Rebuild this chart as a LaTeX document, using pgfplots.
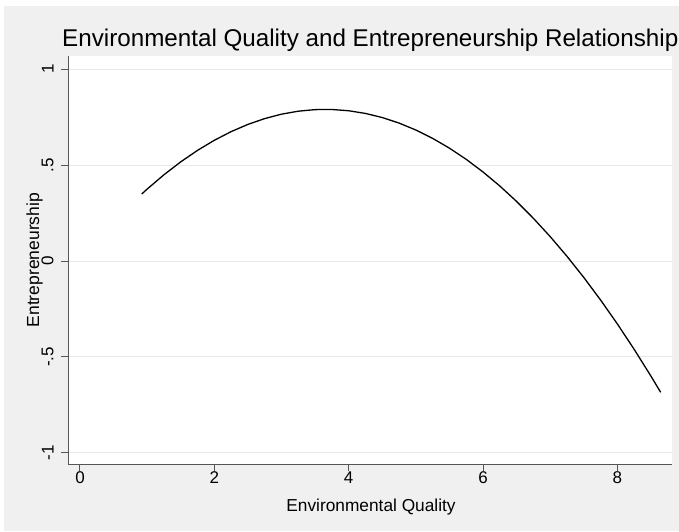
\documentclass[border=0pt]{standalone}
\usepackage{pgfplots}
\pgfplotsset{compat=1.18}
\usepackage{fontspec}
\setmainfont{Liberation Sans}
\definecolor{bggray}{RGB}{240,240,240}
\definecolor{gridgray}{RGB}{232,232,232}
\definecolor{axgray}{RGB}{85,85,85}
\begin{document}
\begin{tikzpicture}[x=1pt,y=1pt]
\useasboundingbox (0,0) rectangle (679,531);
\fill[white] (0,0) rectangle (679,531);
\fill[bggray] (4,0) rectangle (679,525);
\begin{axis}[
  at={(68.3pt,66.7pt)}, anchor=south west,
  scale only axis, width=603.4pt, height=408.3pt,
  xmin=-0.174, xmax=8.809, ymin=-1.059, ymax=1.068,
  axis background/.style={fill=white},
  axis x line*=bottom, axis y line*=left,
  axis line style={axgray, line width=1.2pt},
  tick style={axgray, line width=1pt},
  major tick length=7pt, tick align=outside,
  xtick={0,2,4,6,8}, xticklabels={0,2,4,6,8},
  ytick={-1,-0.5,0,0.5,1}, yticklabels={-1,-.5,0,.5,1},
  minor tick num=0,
  ymajorgrids, grid style={gridgray, line width=1pt},
  xticklabel style={font=\fontsize{17}{17}\selectfont, inner sep=0pt, anchor=north},
  yticklabel style={font=\fontsize{17}{17}\selectfont, inner sep=0pt, rotate=90, anchor=south, yshift=7.5pt},
  title={Environmental Quality and Entrepreneurship Relationship},
  title style={at={(-0.0104,1.0091)}, anchor=base west, inner sep=0pt, font=\fontsize{24.2}{24.2}\selectfont},
  xlabel={Environmental Quality},
  xlabel style={at={(0.5017,-0.1168)}, anchor=base, inner sep=0pt, font=\fontsize{17.3}{17.3}\selectfont},
  ylabel={Entrepreneurship},
  ylabel style={at={(-0.0485,0.5)}, anchor=base, inner sep=0pt, font=\fontsize{17.5}{17.5}\selectfont},
]
\addplot[black, line width=1.3pt] coordinates {
(0.919,0.349) (1.0,0.3747) (1.25,0.4493) (1.5,0.5166) (1.75,0.5764)
(2.0,0.6289) (2.25,0.6740) (2.5,0.7117) (2.75,0.7420) (3.0,0.7650)
(3.25,0.7805) (3.5,0.7887) (3.75,0.7894) (4.0,0.7828) (4.25,0.7688)
(4.5,0.7474) (4.75,0.7186) (5.0,0.6825) (5.25,0.6389) (5.5,0.5879)
(5.75,0.5296) (6.0,0.4639) (6.25,0.3908) (6.5,0.3103) (6.75,0.2224)
(7.0,0.1271) (7.25,0.0245) (7.5,-0.0855) (7.75,-0.2030) (8.0,-0.3278)
(8.25,-0.4600) (8.5,-0.5996) (8.645,-0.6840)
};
\end{axis}
\end{tikzpicture}
\end{document}
